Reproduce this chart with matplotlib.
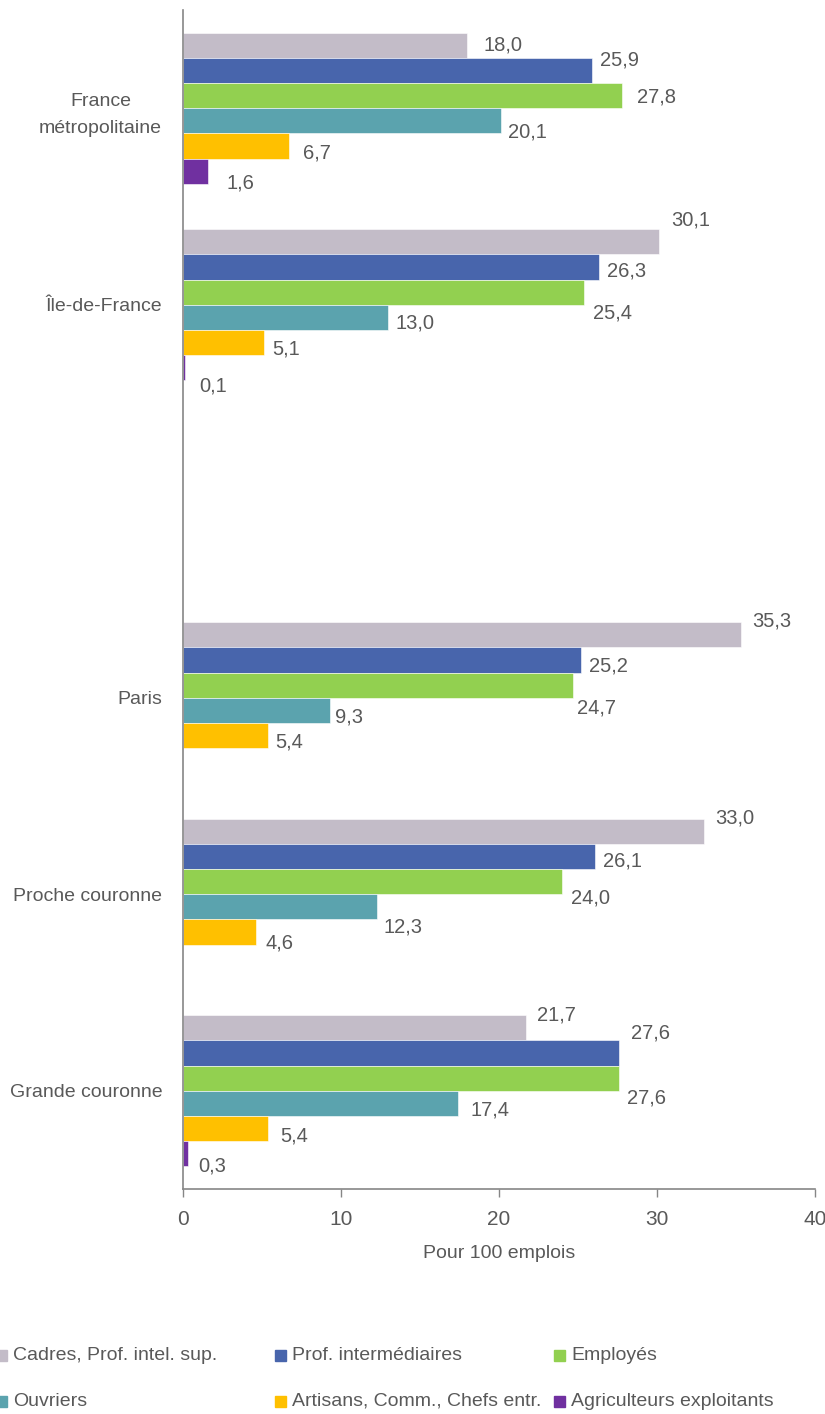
import numpy as np
import matplotlib
matplotlib.use("Agg")
import matplotlib.pyplot as plt
from matplotlib.patches import Rectangle

plt.rcParams["font.family"] = ["Liberation Sans Narrow", "Liberation Sans", "DejaVu Sans"]

# --- data ---
zones = ["France\nmétropolitaine", "Île-de-France", "", "Paris", "Proche couronne", "Grande couronne"]
series = ["Cadres, Prof. intel. sup.", "Prof. intermédiaires", "Employés",
          "Ouvriers", "Artisans, Comm., Chefs entr.", "Agriculteurs exploitants"]
cadres = [18.0, 30.1, None, 35.3, 33.0, 21.7]
prof_inter = [25.9, 26.3, None, 25.2, 26.1, 27.6]
employes = [27.8, 25.4, None, 24.7, 24.0, 27.6]
ouvriers = [20.1, 13.0, None, 9.3, 12.3, 17.4]
artisans = [6.7, 5.1, None, 5.4, 4.6, 5.4]
agriculteurs = [1.6, 0.1, None, None, None, 0.3]
values = [cadres, prof_inter, employes, ouvriers, artisans, agriculteurs]

colors = ["#C3BCC8", "#4865AC", "#92D050", "#5BA3AE", "#FFC000", "#7030A0"]
text_col = "#595959"

# label nudges in pixels (dx, dy up) as placed in the original
label_nudge = [
    [(16, 0), (8, 11), (15, -1), (7, -11), (14, -7), (18, -12)],
    [(13, 22), (8, -4), (9, -21), (7, -6), (9, -7), (15, -18)],
    [None] * 6,
    [(11, 14), (8, -6), (4, -23), (5, -7), (7, -7), None],
    [(11, 13), (8, -4), (9, -16), (6, -20), (10, -11), None],
    [(11, 13), (12, 20), (8, -20), (13, -7), (12, -8), (11, -12)],
]

fig = plt.figure(figsize=(8.25, 14.14), dpi=100)
ax = fig.add_axes([183 / 825, 1 - 1189 / 1414, 632 / 825, 1179 / 1414])

y = np.arange(len(zones))
h = 0.128
for k, (vals, col) in enumerate(zip(values, colors)):
    off = (k - 2.5) * h
    for i, v in enumerate(vals):
        if v is None:
            continue
        ax.barh(y[i] + off, v, height=h, color=col, edgecolor="white", linewidth=0.4)
        dx, dy = label_nudge[i][k]
        ax.annotate(f"{v:.1f}".replace(".", ","), (v, y[i] + off),
                    xytext=(dx, dy), textcoords="offset pixels",
                    ha="left", va="center", fontsize=14.5, color=text_col)

ax.set_xlim(0, 40)
ax.set_ylim(len(zones) - 0.5, -0.5)
ax.set_xticks([0, 10, 20, 30, 40])
ax.set_yticks(y)
ax.set_yticklabels(zones, multialignment="center", linespacing=1.75)
ax.tick_params(axis="y", length=0, pad=15, labelsize=14, labelcolor=text_col)
ax.tick_params(axis="x", length=6, width=1, color="#868686", pad=9,
               labelsize=15, labelcolor=text_col)
ax.set_xlabel("Pour 100 emplois", fontsize=14, color=text_col, labelpad=12)

for s in ["top", "right"]:
    ax.spines[s].set_visible(False)
for s in ["left", "bottom"]:
    ax.spines[s].set_color("#868686")
    ax.spines[s].set_linewidth(1.2)

# legend laid out row by row like the original
leg_x = [-4, 275, 554]
leg_y = [1355, 1401]
W, H = 825, 1414
for k, (name, col) in enumerate(zip(series, colors)):
    px = leg_x[k % 3]
    py = leg_y[k // 3]
    fig.add_artist(Rectangle((px / W, 1 - (py + 6) / H), 11 / W, 11 / H,
                             transform=fig.transFigure, color=col))
    fig.text((px + 17) / W, 1 - py / H, name, ha="left", va="center",
             fontsize=14, color=text_col)

fig.savefig("out.png", dpi=100)
